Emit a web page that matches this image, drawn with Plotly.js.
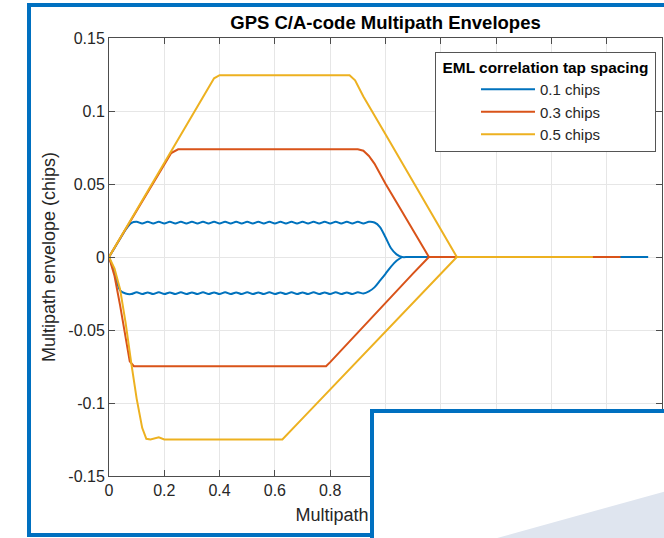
<!DOCTYPE html>
<html>
<head>
<meta charset="utf-8">
<script src="https://cdn.plot.ly/plotly-3.0.1.min.js"></script>
<style>
html,body{margin:0;padding:0;background:#fff;}
#chart{width:664px;height:538px;}
</style>
</head>
<body>
<div id="chart"></div>
<script>
// ---- Data ----
const seriesNames = ['0.1 chips', '0.3 chips', '0.5 chips'];

// 0.1 chips
const blueUpX = [0,0.02,0.04,0.06,0.08,
  0.10,0.12,0.14,0.16,0.18,0.20,0.22,0.24,0.26,0.28,0.30,0.32,0.34,0.36,0.38,0.40,0.42,0.44,0.46,0.48,0.50,
  0.52,0.54,0.56,0.58,0.60,0.62,0.64,0.66,0.68,0.70,0.72,0.74,0.76,0.78,0.80,0.82,0.84,0.86,0.88,0.90,0.92,0.94,0.96,
  0.98,1.00,1.02,1.04,1.06,1.08,1.10,1.95];
const blueUpY = [0,0.0062,0.0125,0.0188,0.0232,
  0.0241,0.0229,0.0241,0.0230,0.0241,0.0229,0.0241,0.0230,0.0241,0.0229,0.0241,0.0230,0.0241,0.0229,0.0241,0.0230,0.0241,0.0229,0.0241,0.0230,0.0241,
  0.0229,0.0241,0.0230,0.0241,0.0229,0.0241,0.0230,0.0241,0.0229,0.0241,0.0230,0.0241,0.0229,0.0241,0.0230,0.0241,0.0229,0.0241,0.0230,0.0241,0.0229,0.0241,0.0236,
  0.0205,0.0135,0.0060,0.0018,0,0,0,0];
const blueLoX = [0,0.02,0.04,0.06,
  0.08,0.10,0.12,0.14,0.16,0.18,0.20,0.22,0.24,0.26,0.28,0.30,0.32,0.34,0.36,0.38,0.40,0.42,0.44,0.46,0.48,0.50,
  0.52,0.54,0.56,0.58,0.60,0.62,0.64,0.66,0.68,0.70,0.72,0.74,0.76,0.78,0.80,0.82,0.84,0.86,0.88,0.90,0.92,
  0.94,0.96,0.98,1.00,1.02,1.04,1.06];
const blueLoY = [0,-0.0110,-0.0228,-0.0250,
  -0.0254,-0.0242,-0.0254,-0.0243,-0.0254,-0.0242,-0.0254,-0.0243,-0.0254,-0.0242,-0.0254,-0.0243,-0.0254,-0.0242,-0.0254,-0.0243,-0.0254,-0.0242,-0.0254,-0.0243,-0.0254,-0.0242,
  -0.0254,-0.0243,-0.0254,-0.0242,-0.0254,-0.0243,-0.0254,-0.0242,-0.0254,-0.0243,-0.0254,-0.0242,-0.0254,-0.0243,-0.0254,-0.0242,-0.0254,-0.0243,-0.0254,-0.0242,-0.0250,
  -0.0236,-0.0208,-0.0162,-0.0115,-0.0066,-0.0026,0];

// 0.3 chips
const redUpX = [0,0.10,0.20,0.225,0.25,0.90,0.92,0.94,0.96,1.00,1.05,1.10,1.13,1.157,1.85];
const redUpY = [0,0.0318,0.0636,0.0712,0.0738,0.0738,0.0728,0.0692,0.0640,0.0502,0.0343,0.0184,0.0088,0,0];
const redLoX = [0,0.02,0.04,0.06,0.075,0.09,0.785,0.80,0.90,1.00,1.10,1.157];
const redLoY = [0,-0.0130,-0.0330,-0.0560,-0.0715,-0.0748,-0.0748,-0.0720,-0.0515,-0.0312,-0.0112,0];

// 0.5 chips
const yelUpX = [0,0.10,0.20,0.30,0.36,0.38,0.40,0.87,0.89,0.92,1.00,1.10,1.20,1.258,1.75];
const yelUpY = [0,0.0323,0.0646,0.0969,0.1160,0.1224,0.1245,0.1245,0.1210,0.1100,0.0840,0.0515,0.0190,0,0];
const yelLoX = [0,0.02,0.04,0.06,0.08,0.10,0.12,0.135,0.15,0.165,0.18,0.20,0.627,0.70,0.80,0.90,1.00,1.10,1.20,1.258];
const yelLoY = [0,-0.0080,-0.0220,-0.0450,-0.0720,-0.0970,-0.1170,-0.1245,-0.1250,-0.1245,-0.1235,-0.1250,-0.1250,-0.1105,-0.0907,-0.0709,-0.0511,-0.0313,-0.0115,0];

const xTickVals = [0,0.2,0.4,0.6,0.8,1,1.2,1.4,1.6,1.8,2];
const xTickText = ['0','0.2','0.4','0.6','0.8','1','1.2','1.4','1.6','1.8','2'];
const yTickVals = [-0.15,-0.1,-0.05,0,0.05,0.1,0.15];
const yTickText = ['-0.15','-0.1','-0.05','0','0.05','0.1','0.15'];

const colors = ['#0072BD', '#D95319', '#EDB120'];

// ---- Chart ----
const FONT = '"Liberation Sans", Arial, Helvetica, sans-serif';
const W = 664, H = 538, ML = 109, MR = 2, MT = 38, MB = 62;
const PW = W - ML - MR, PH = H - MT - MB;
const px = v => (v - ML) / PW;          // pixel x -> paper x
const py = v => (H - MB - v) / PH;      // pixel y -> paper y

function tr(x, y, i, show, spline) {
  return {
    x: x, y: y, type: 'scatter', mode: 'lines',
    name: seriesNames[i], legendgroup: 'g' + i, showlegend: show,
    line: {color: colors[i], width: 2, shape: spline ? 'spline' : 'linear', smoothing: 0.8},
    hoverinfo: 'skip'
  };
}

const data = [
  tr(blueUpX, blueUpY, 0, true, true),
  tr(blueLoX, blueLoY, 0, false, true),
  tr(redUpX, redUpY, 1, true, false),
  tr(redLoX, redLoY, 1, false, false),
  tr(yelUpX, yelUpY, 2, true, false),
  tr(yelLoX, yelLoY, 2, false, false)
];

const axisCommon = {
  showline: true, linecolor: '#4d4d4d', linewidth: 1, mirror: 'ticks',
  ticks: 'inside', ticklen: 6, tickcolor: '#4d4d4d', tickwidth: 1,
  showgrid: true, gridcolor: '#e6e6e6', gridwidth: 1, zeroline: false,
  tickfont: {family: FONT, size: 16, color: '#262626'},
  tickmode: 'array'
};

const layout = {
  width: W, height: H,
  margin: {l: ML, r: MR, t: MT, b: MB, pad: 0},
  paper_bgcolor: '#ffffff', plot_bgcolor: '#ffffff',
  font: {family: FONT, color: '#262626'},
  title: {
    text: '<b>GPS C/A-code Multipath Envelopes</b>',
    font: {family: FONT, size: 18.5, color: '#000000'},
    x: 0.5, xref: 'paper', y: 1 - 23 / H, yref: 'container', yanchor: 'middle'
  },
  xaxis: Object.assign({}, axisCommon, {
    range: [0, 2], tickvals: xTickVals, ticktext: xTickText,
    title: {text: 'Multipath delay (chips)', font: {family: FONT, size: 18, color: '#262626'}, standoff: 10}
  }),
  yaxis: Object.assign({}, axisCommon, {
    range: [-0.15, 0.15], tickvals: yTickVals, ticktext: yTickText,
    title: {text: 'Multipath envelope (chips)', font: {family: FONT, size: 18, color: '#262626'}, standoff: 8}
  }),
  legend: {
    x: px(435), y: py(52), xanchor: 'left', yanchor: 'top',
    bgcolor: '#ffffff', bordercolor: '#555555', borderwidth: 1,
    font: {family: FONT, size: 15, color: '#262626'},
    title: {text: '<b>&nbsp;EML correlation tap spacing&nbsp;</b>', side: 'top center', font: {family: FONT, size: 15.4, color: '#000000'}},
    itemwidth: 54, indentation: 40, tracegroupgap: 0
  },
  shapes: [
    // separator under legend title
    {type: 'line', xref: 'paper', yref: 'paper', x0: px(436), x1: px(651), y0: py(77), y1: py(77),
     line: {color: '#555555', width: 1}, layer: 'above'},
    // outer blue slide frame
    {type: 'rect', xref: 'paper', yref: 'paper', x0: px(29), x1: px(720), y0: py(535), y1: py(5),
     line: {color: '#0070C0', width: 4}, fillcolor: 'rgba(0,0,0,0)', layer: 'above'},
    // overlapping white panel
    {type: 'rect', xref: 'paper', yref: 'paper', x0: px(372), x1: px(720), y0: py(580), y1: py(411),
     line: {color: '#0070C0', width: 4}, fillcolor: '#ffffff', layer: 'above'},
    // light decoration at the bottom right
    {type: 'path', xref: 'paper', yref: 'paper',
     path: 'M' + px(490) + ',' + py(540) + ' L' + px(670) + ',' + py(490) + ' L' + px(670) + ',' + py(540) + ' Z',
     fillcolor: '#dfe5ef', line: {width: 0}, layer: 'above'}
  ],
  annotations: [
    // the panel hides the end of the x-axis title: blue edge + white interior drawn over it
    {xref: 'paper', yref: 'paper', x: px(370), y: py(496), xanchor: 'left', yanchor: 'top',
     text: ' ', showarrow: false, bgcolor: '#0070C0', width: 104, height: 38, borderwidth: 0, borderpad: 0},
    {xref: 'paper', yref: 'paper', x: px(374), y: py(496), xanchor: 'left', yanchor: 'top',
     text: ' ', showarrow: false, bgcolor: '#ffffff', width: 104, height: 38, borderwidth: 0, borderpad: 0}
  ]
};

Plotly.newPlot('chart', data, layout, {displayModeBar: false, staticPlot: true});
</script>
</body>
</html>
